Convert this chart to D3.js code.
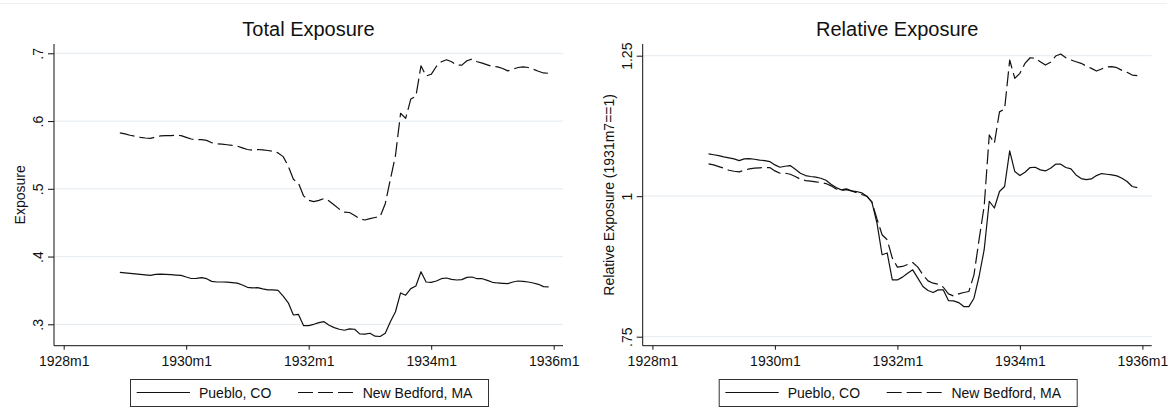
<!DOCTYPE html>
<html>
<head>
<meta charset="utf-8">
<script src="https://cdn.jsdelivr.net/npm/d3@7"></script>
<style>
  body { margin: 0; background: #fff; }
  svg { display: block; font-family: "Liberation Sans", Arial, sans-serif; }
</style>
</head>
<body>
<div id="chart"></div>
<script>
// Monthly series, first value is 1928m12 (month 11 counted from 1928m1), last is 1935m12
const firstMonth = 11;

const puebloTotal = [
  .3766, .3759, .3751, .3744, .3737, .3729, .3722, .3737, .3741, .3737, .3732, .3727, .3722,
  .3698, .3676, .3678, .3688, .3673, .3634, .3624, .3624, .3622, .3615, .3607, .358,
  .3546, .3537, .3541, .3522, .3507, .3507, .3502, .3415, .3317, .3137, .3146, .298,
  .298, .300, .3024, .3039, .2985, .2951, .2927, .2912, .2932, .2927, .2859, .2854,
  .2868, .2824, .282, .2868, .3039, .3185, .3463, .3429, .3527, .3566, .3776, .3624,
  .362, .3639, .3673, .3683, .3663, .3654, .3659, .3693, .3698, .3673, .3673, .3649,
  .362, .361, .3605, .36, .3624, .3639, .3634, .3624, .361, .359, .3556, .3551
];

const newBedfordTotal = [
  .5825, .581, .579, .5775, .576, .575, .5745, .5765, .578, .5785, .5785, .579, .5785,
  .576, .5735, .5725, .5725, .5715, .568, .5665, .566, .565, .564, .563, .5605,
  .558, .557, .558, .5575, .5565, .5555, .553, .5475, .5335, .514, .5085, .4895,
  .483, .481, .483, .4857, .482, .476, .470, .4655, .465, .4606, .4557, .454,
  .456, .4576, .459, .478, .514, .549, .6115, .604, .6325, .6365, .6815, .6665,
  .669, .6805, .6875, .6905, .6875, .6825, .6825, .689, .6915, .6875, .6855, .683,
  .6805, .68, .6775, .674, .6765, .679, .68, .679, .6765, .6735, .671, .6705
];

const puebloRelative = [
  1.0752, 1.0738, 1.0723, 1.07, 1.0682, 1.0664, 1.0634, 1.0664, 1.067, 1.0658, 1.0643, 1.0634, 1.0616,
  1.0557, 1.0515, 1.0533, 1.0545, 1.048, 1.0409, 1.0367, 1.035, 1.0338, 1.032, 1.0284, 1.0213,
  1.0154, 1.0112, 1.013, 1.0095, 1.0083, 1.006, 1.0, .9893, .952, .8958, .899, .8512,
  .851, .856, .863, .869, .8542, .8393, .8321, .8286, .8333, .8333, .8143, .8137,
  .8107, .8036, .8036, .8185, .8571, .9048, .991, .979, 1.0083, 1.0172, 1.0806, 1.0438,
  1.0367, 1.0427, 1.051, 1.0515, 1.0468, 1.045, 1.0498, 1.0569, 1.0569, 1.051, 1.0486, 1.0379,
  1.0314, 1.0296, 1.0308, 1.0367, 1.0403, 1.0391, 1.0379, 1.0361, 1.032, 1.0261, 1.0172, 1.0154
];

const newBedfordRelative = [
  1.0575, 1.0557, 1.0527, 1.0498, 1.0462, 1.0444, 1.0433, 1.0462, 1.0486, 1.0498, 1.0504, 1.051, 1.051,
  1.045, 1.0409, 1.0409, 1.0391, 1.035, 1.0302, 1.0278, 1.0267, 1.0255, 1.0243, 1.0225, 1.0184,
  1.013, 1.0101, 1.0118, 1.0095, 1.006, 1.003, 1.0, .99, .9595, .9315, .9226, .8899,
  .8738, .875, .8786, .8821, .8738, .8601, .8494, .8452, .8435, .838, .8262, .8226,
  .8262, .8286, .8304, .8601, .9226, .9821, 1.109, 1.094, 1.150, 1.155, 1.2423, 1.2097,
  1.2186, 1.2364, 1.2464, 1.2453, 1.2393, 1.2334, 1.2382, 1.2494, 1.253, 1.2464, 1.2423, 1.2393,
  1.2364, 1.2316, 1.2275, 1.2227, 1.2263, 1.2299, 1.2305, 1.2287, 1.2239, 1.2204, 1.2156, 1.2145
];

const xTickMonths = [0, 24, 48, 72, 96];
const xTickLabels = ["1928m1", "1930m1", "1932m1", "1934m1", "1936m1"];

const totalTicks = [0.3, 0.4, 0.5, 0.6, 0.7];
const totalTickLabels = [".3", ".4", ".5", ".6", ".7"];
const relativeTicks = [0.75, 1, 1.25];
const relativeTickLabels = [".75", "1", "1.25"];

const seriesNames = ["Pueblo, CO", "New Bedford, MA"];

// 1. Canvas
const width = 1172, height = 410;
const svg = d3.select("#chart").append("svg")
    .attr("width", width)
    .attr("height", height);

// faint outer border line at the very top
svg.append("line")
    .attr("x1", 0).attr("x2", 1167)
    .attr("y1", 3.5).attr("y2", 3.5)
    .attr("stroke", "#eef1f3");

const ink = "#111";
const gridColor = "#e8eef1";
const dash = "15,5";

// 2. Panel definitions (layout here, values above)
const panels = [
    {
        title: "Total Exposure", yTitle: "Exposure",
        series: [puebloTotal, newBedfordTotal],
        ticks: totalTicks, tickLabels: totalTickLabels,
        ox: 54, yDomain: [0.3, 0.7], yRange: [324.3, 53.3], yTitleX: 25
    },
    {
        title: "Relative Exposure", yTitle: "Relative Exposure (1931m7==1)",
        series: [puebloRelative, newBedfordRelative],
        ticks: relativeTicks, tickLabels: relativeTickLabels,
        ox: 642.7, yDomain: [0.75, 1.25], yRange: [336.7, 55.7], yTitleX: 614
    }
];

const axisTop = 44, axisBottom = 345.7, axisLen = 509;

panels.forEach(p => drawPanel(p));

function drawPanel(p) {
    const g = svg.append("g");

    const x = d3.scaleLinear()
        .domain([0, 96])
        .range([p.ox + 9.7, p.ox + 499.7]);
    const y = d3.scaleLinear()
        .domain(p.yDomain)
        .range(p.yRange);

    // gridlines
    g.append("g").selectAll("line")
        .data(p.ticks)
        .join("line")
        .attr("x1", p.ox + 0.5).attr("x2", p.ox + axisLen)
        .attr("y1", d => y(d)).attr("y2", d => y(d))
        .attr("stroke", gridColor).attr("stroke-width", 1.2);

    // axes
    const xAxis = g.append("g")
        .attr("transform", `translate(0,${axisBottom})`)
        .call(d3.axisBottom(x)
            .tickValues(xTickMonths)
            .tickFormat((d, i) => xTickLabels[i])
            .tickSize(4));
    xAxis.select(".domain").remove();
    xAxis.selectAll("line").attr("stroke", ink);
    xAxis.selectAll("text")
        .attr("y", 10)
        .attr("fill", ink)
        .style("font-size", "14px");

    const yAxis = g.append("g")
        .attr("transform", `translate(${p.ox},0)`)
        .call(d3.axisLeft(y)
            .tickValues(p.ticks)
            .tickFormat((d, i) => p.tickLabels[i])
            .tickSize(6));
    yAxis.select(".domain").remove();
    yAxis.selectAll("line").attr("stroke", ink);
    yAxis.selectAll("text")
        .attr("transform", "rotate(-90)")
        .attr("x", 0).attr("y", -11).attr("dy", 0)
        .attr("text-anchor", "middle")
        .attr("fill", ink)
        .style("font-size", "14px");

    g.append("line")
        .attr("x1", p.ox).attr("x2", p.ox)
        .attr("y1", axisTop).attr("y2", axisBottom)
        .attr("stroke", ink);
    g.append("line")
        .attr("x1", p.ox).attr("x2", p.ox + axisLen)
        .attr("y1", axisBottom).attr("y2", axisBottom)
        .attr("stroke", ink);

    // data lines
    const line = d3.line()
        .x((d, i) => x(firstMonth + i))
        .y(d => y(d));

    p.series.forEach((s, k) => {
        g.append("path")
            .datum(s)
            .attr("d", line)
            .attr("fill", "none")
            .attr("stroke", ink)
            .attr("stroke-width", 1.2)
            .attr("stroke-linejoin", "round")
            .attr("stroke-dasharray", k === 1 ? dash : null);
    });

    // titles
    g.append("text")
        .attr("x", p.ox + axisLen / 2)
        .attr("y", 36)
        .attr("text-anchor", "middle")
        .attr("fill", ink)
        .style("font-size", "20px")
        .text(p.title);

    g.append("text")
        .attr("transform", `translate(${p.yTitleX},${(axisTop + axisBottom) / 2}) rotate(-90)`)
        .attr("text-anchor", "middle")
        .attr("fill", ink)
        .style("font-size", "14px")
        .text(p.yTitle);

    // legend
    const lx = p.ox + 76;
    const legend = g.append("g").attr("transform", `translate(${lx},379)`);
    legend.append("rect")
        .attr("x", 0.5).attr("y", 0.5)
        .attr("width", 358).attr("height", 27)
        .attr("fill", "#fff")
        .attr("stroke", "#333");

    const items = [
        { name: seriesNames[0], x0: 6.7, x1: 60, tx: 69, dashed: false },
        { name: seriesNames[1], x0: 168, x1: 223, tx: 232.7, dashed: true }
    ];
    items.forEach(it => {
        legend.append("line")
            .attr("x1", it.x0).attr("x2", it.x1)
            .attr("y1", 13.5).attr("y2", 13.5)
            .attr("stroke", ink)
            .attr("stroke-width", 1.2)
            .attr("stroke-dasharray", it.dashed ? dash : null);
        legend.append("text")
            .attr("x", it.tx).attr("y", 18.5)
            .attr("fill", ink)
            .style("font-size", "14px")
            .text(it.name);
    });
}
</script>
</body>
</html>
